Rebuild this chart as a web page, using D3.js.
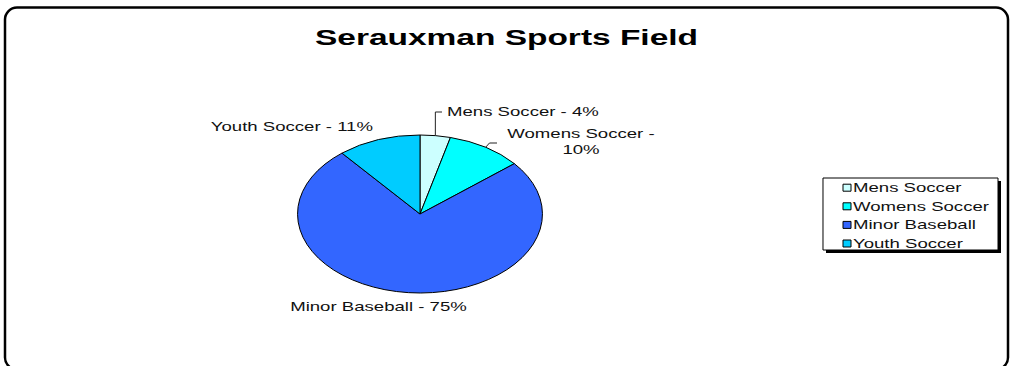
<!DOCTYPE html>
<html>
<head>
<meta charset="utf-8">
<script src="https://cdn.jsdelivr.net/npm/d3@7"></script>
<style>
  html, body { margin: 0; padding: 0; background: #fff; overflow: hidden; }
  svg { display: block; }
</style>
</head>
<body>
<svg id="chart" width="1011" height="366"></svg>
<script>
// ---- data ----
const categories = ["Mens Soccer", "Womens Soccer", "Minor Baseball", "Youth Soccer"];
const shares = [4, 10, 75, 11];
const sliceColors = ["#CCFFFF", "#00FFFF", "#3366FF", "#00CCFF"];
const chartTitle = "Serauxman Sports Field";

// ---- layout ----
const SX = 1.55;                       // horizontal stretch of the plot area
const FONT = "Arial, 'Liberation Sans', sans-serif";
const pieCenter = { x: 420, y: 214 };  // page px
const pieRadius = 79;                  // vertical radius, page px

// label placement in page px (text anchor point + optional elbow for leader)
const labelLayout = {
  "Mens Soccer":    { x: 447, y: 116.5, anchor: "start", leader: [[null, 112], [442, 112]] },
  "Womens Soccer":  { x: 581, y: 138.5, anchor: "middle", wrap: true, leader: [[489.5, 143], [497, 143]] },
  "Minor Baseball": { x: 378.5, y: 311, anchor: "middle" },
  "Youth Soccer":   { x: 373, y: 131, anchor: "end" }
};

const svg = d3.select("#chart");

// chart frame
svg.append("rect")
  .attr("x", 5).attr("y", 7.5)
  .attr("width", 1003).attr("height", 362)
  .attr("rx", 12).attr("ry", 12)
  .attr("fill", "#fff")
  .attr("stroke", "#000")
  .attr("stroke-width", 2.5);

// everything inside is drawn in unstretched units and widened by SX
const g = svg.append("g").attr("transform", `scale(${SX},1)`);
const px = x => x / SX;

// title
g.append("text")
  .attr("x", px(506.5)).attr("y", 45)
  .attr("text-anchor", "middle")
  .attr("font-family", FONT)
  .attr("font-weight", "bold")
  .attr("font-size", 21.6)
  .attr("fill", "#000")
  .text(chartTitle);

// pie
const rows = categories.map((c, i) => ({ name: c, value: shares[i] }));
const color = d3.scaleOrdinal(categories, sliceColors);
const pie = d3.pie().sort(null).value(d => d.value);
const arcs = pie(rows);
const arc = d3.arc().innerRadius(0).outerRadius(pieRadius);

const pg = g.append("g").attr("transform", `translate(${px(pieCenter.x)},${pieCenter.y})`);
pg.selectAll("path")
  .data(arcs)
  .join("path")
  .attr("d", arc)
  .attr("fill", d => color(d.data.name))
  .attr("stroke", "#000")
  .attr("stroke-width", 1)
  .attr("vector-effect", "non-scaling-stroke");

// data labels with leader lines
arcs.forEach(a => {
  const L = labelLayout[a.data.name];
  const mid = (a.startAngle + a.endAngle) / 2;
  const edge = [px(pieCenter.x) + pieRadius * Math.sin(mid), pieCenter.y - pieRadius * Math.cos(mid)];
  if (L.leader) {
    const pts = [edge].concat(L.leader.map(([x, y]) => [x === null ? edge[0] : px(x), y]));
    g.append("path")
      .attr("d", d3.line()(pts))
      .attr("fill", "none")
      .attr("stroke", "#222")
      .attr("stroke-width", 1)
      .attr("vector-effect", "non-scaling-stroke");
  }
  const label = `${a.data.name} - ${a.data.value}%`;
  const t = g.append("text")
    .attr("x", px(L.x)).attr("y", L.y)
    .attr("text-anchor", L.anchor)
    .attr("font-family", FONT)
    .attr("font-size", 12)
    .attr("fill", "#111");
  if (L.wrap) {
    t.append("tspan").attr("x", px(L.x)).attr("dy", 0).text(`${a.data.name} -`);
    t.append("tspan").attr("x", px(L.x)).attr("dy", 15.5).text(`${a.data.value}%`);
  } else {
    t.text(label);
  }
});

// legend
const legendBox = { x: 823, y: 178, w: 175, h: 72 };
const rowY = d3.scaleBand().domain(categories).range([178.4, 252.8]);
g.append("rect")
  .attr("x", px(legendBox.x + 3)).attr("y", legendBox.y + 3)
  .attr("width", px(legendBox.w)).attr("height", legendBox.h)
  .attr("fill", "#000");
g.append("rect")
  .attr("x", px(legendBox.x)).attr("y", legendBox.y)
  .attr("width", px(legendBox.w)).attr("height", legendBox.h)
  .attr("fill", "#fff")
  .attr("stroke", "#000")
  .attr("stroke-width", 1)
  .attr("vector-effect", "non-scaling-stroke");

const items = g.selectAll("g.item")
  .data(categories)
  .join("g")
  .attr("class", "item")
  .attr("transform", d => `translate(0,${rowY(d) + rowY.bandwidth() / 2})`);
items.append("rect")
  .attr("x", px(843)).attr("y", -3.5)
  .attr("width", px(8)).attr("height", 7)
  .attr("fill", d => color(d))
  .attr("stroke", "#000")
  .attr("stroke-width", 1)
  .attr("vector-effect", "non-scaling-stroke");
items.append("text")
  .attr("x", px(853)).attr("y", 4.3)
  .attr("font-family", FONT)
  .attr("font-size", 12)
  .attr("fill", "#111")
  .text(d => d);
</script>
</body>
</html>
